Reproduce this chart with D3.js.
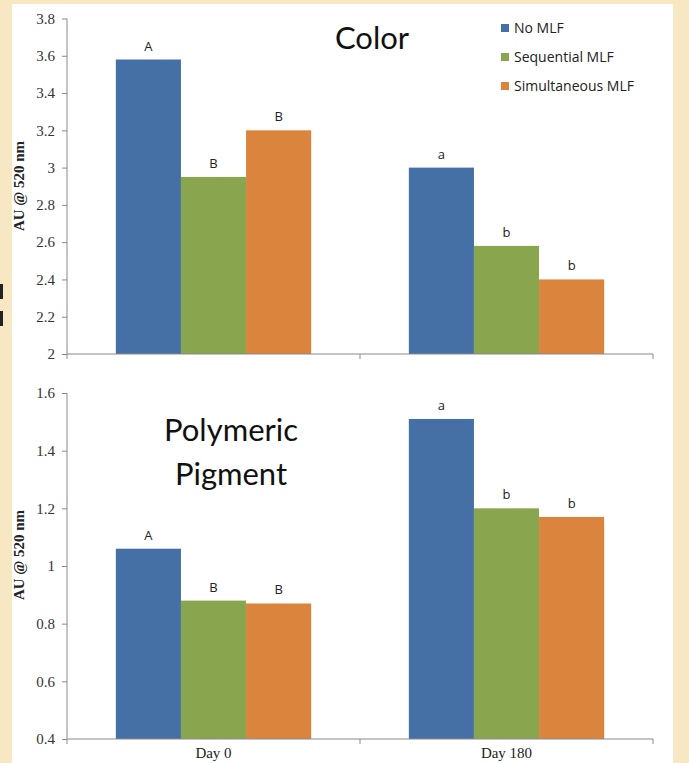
<!DOCTYPE html>
<html>
<head>
<meta charset="utf-8">
<script src="https://cdn.jsdelivr.net/npm/d3@7/dist/d3.min.js"></script>
<style>
  html, body { margin: 0; padding: 0; background: #f7e7c3; }
  svg { display: block; }
</style>
</head>
<body>
<svg id="chart" width="689" height="763"></svg>
<script>
// ---------- DATA ----------
const categories = ["Day 0", "Day 180"];
const seriesNames = ["No MLF", "Sequential MLF", "Simultaneous MLF"];
const seriesColors = ["#4470a5", "#89a54e", "#db843d"];

// Color panel (AU @ 520 nm)
const colorNoMLF = [3.58, 3.00];
const colorSequential = [2.95, 2.58];
const colorSimultaneous = [3.20, 2.40];
const colorLetters = [["A", "B", "B"], ["a", "b", "b"]];
const colorTicks = [2, 2.2, 2.4, 2.6, 2.8, 3, 3.2, 3.4, 3.6, 3.8];

// Polymeric pigment panel (AU @ 520 nm)
const pigmentNoMLF = [1.06, 1.51];
const pigmentSequential = [0.88, 1.20];
const pigmentSimultaneous = [0.87, 1.17];
const pigmentLetters = [["A", "B", "B"], ["a", "b", "b"]];
const pigmentTicks = [0.4, 0.6, 0.8, 1, 1.2, 1.4, 1.6];

const yLabel = "AU @ 520 nm";

// ---------- DRAW ----------
const svg = d3.select("#chart");
const W = 689, H = 763;

// background + white panel
svg.append("rect").attr("width", W).attr("height", H).attr("fill", "#f7e7c3");
svg.append("rect").attr("x", 12).attr("y", 4).attr("width", 661).attr("height", H - 4).attr("fill", "#ffffff");
// small dark marks at the left edge (cropped text in the original)
svg.append("rect").attr("x", 0).attr("y", 284).attr("width", 3).attr("height", 15).attr("fill", "#222");
svg.append("rect").attr("x", 0).attr("y", 311).attr("width", 3).attr("height", 15).attr("fill", "#222");

const sansFont = "Lato, 'Open Sans', sans-serif";
const legendFont = "'Open Sans', 'Noto Sans', sans-serif";
const serifFont = "'Liberation Serif', 'DejaVu Serif', serif";
const axisColor = "#8a8a8a";

const x0 = d3.scaleBand().domain(categories).range([67, 653]).paddingInner(0).paddingOuter(0);
const x1 = d3.scaleBand().domain(seriesNames).range([0, x0.bandwidth()]).paddingInner(0).paddingOuter(0.75);

function fmt(d) { return String(+d.toFixed(1)); }

function drawPanel(values, letters, ticks, yRange, showXLabels, labelY) {
  const y = d3.scaleLinear().domain([ticks[0], ticks[ticks.length - 1]]).range(yRange);
  const g = svg.append("g");

  // y axis
  const yAxis = g.append("g").attr("transform", `translate(67,0)`)
    .call(d3.axisLeft(y).tickValues(ticks).tickFormat(fmt).tickSize(5).tickPadding(7));
  yAxis.select(".domain").attr("stroke", axisColor).attr("d", `M0,${yRange[0]}V${yRange[1]}`);
  yAxis.selectAll(".tick line").attr("stroke", axisColor);
  yAxis.selectAll(".tick text").attr("font-family", serifFont).attr("font-size", 15).attr("fill", "#333");

  // bars
  const data = [];
  categories.forEach((c, ci) => {
    seriesNames.forEach((s, si) => {
      data.push({ cat: c, ser: s, si, value: values[si][ci], letter: letters[ci][si] });
    });
  });

  g.selectAll("rect.bar").data(data).enter().append("rect")
    .attr("class", "bar")
    .attr("x", d => x0(d.cat) + x1(d.ser))
    .attr("width", x1.bandwidth())
    .attr("y", d => y(d.value))
    .attr("height", d => y(ticks[0]) - y(d.value))
    .attr("fill", d => seriesColors[d.si]);

  g.selectAll("text.letter").data(data).enter().append("text")
    .attr("class", "letter")
    .attr("x", d => x0(d.cat) + x1(d.ser) + x1.bandwidth() / 2)
    .attr("y", d => y(d.value) - 9)
    .attr("text-anchor", "middle")
    .attr("font-family", legendFont).attr("font-size", 13).attr("fill", "#222")
    .text(d => d.letter);

  // x axis
  const xAxis = g.append("g").attr("transform", `translate(0,${yRange[0]})`)
    .call(d3.axisBottom(x0).tickSize(0).tickFormat(showXLabels ? (d => d) : () => ""));
  xAxis.select(".domain").attr("stroke", axisColor).attr("d", `M67,0H653`);
  xAxis.selectAll(".tick text").attr("font-family", serifFont).attr("font-size", 15).attr("fill", "#222")
    .attr("y", 19).attr("dy", 0);
  // boundary tick marks between categories
  const bounds = [x0.range()[0]].concat(categories.map(c => x0(c) + x0.bandwidth()));
  xAxis.selectAll("line.bound").data(bounds).enter().append("line")
    .attr("class", "bound")
    .attr("x1", d => d).attr("x2", d => d).attr("y1", 0).attr("y2", 5)
    .attr("stroke", axisColor);

  // y label
  g.append("text")
    .attr("transform", `translate(24,${labelY}) rotate(-90)`)
    .attr("text-anchor", "middle")
    .attr("font-family", serifFont).attr("font-weight", "bold").attr("font-size", 15).attr("fill", "#222")
    .text(yLabel);
  return g;
}

const colorValues = [colorNoMLF, colorSequential, colorSimultaneous];
const pigmentValues = [pigmentNoMLF, pigmentSequential, pigmentSimultaneous];

drawPanel(colorValues, colorLetters, colorTicks, [354, 18.5], false, 186);
drawPanel(pigmentValues, pigmentLetters, pigmentTicks, [739, 393], true, 555);

// titles
svg.append("text").attr("x", 372).attr("y", 49).attr("text-anchor", "middle")
  .attr("font-family", sansFont).attr("font-size", 31).attr("fill", "#111").text("Color");
svg.append("text").attr("x", 231).attr("y", 441).attr("text-anchor", "middle")
  .attr("font-family", sansFont).attr("font-size", 31).attr("fill", "#111").text("Polymeric");
svg.append("text").attr("x", 231).attr("y", 485).attr("text-anchor", "middle")
  .attr("font-family", sansFont).attr("font-size", 31).attr("fill", "#111").text("Pigment");

// legend
const legend = svg.append("g").selectAll("g").data(seriesNames).enter().append("g")
  .attr("transform", (d, i) => `translate(501,${28 + i * 29})`);
legend.append("rect").attr("x", 0).attr("y", -4).attr("width", 8).attr("height", 8)
  .attr("fill", (d, i) => seriesColors[i]);
legend.append("text").attr("x", 13).attr("y", 0).attr("dy", "0.35em")
  .attr("font-family", legendFont).attr("font-size", 14).attr("fill", "#222").text(d => d);
</script>
</body>
</html>
